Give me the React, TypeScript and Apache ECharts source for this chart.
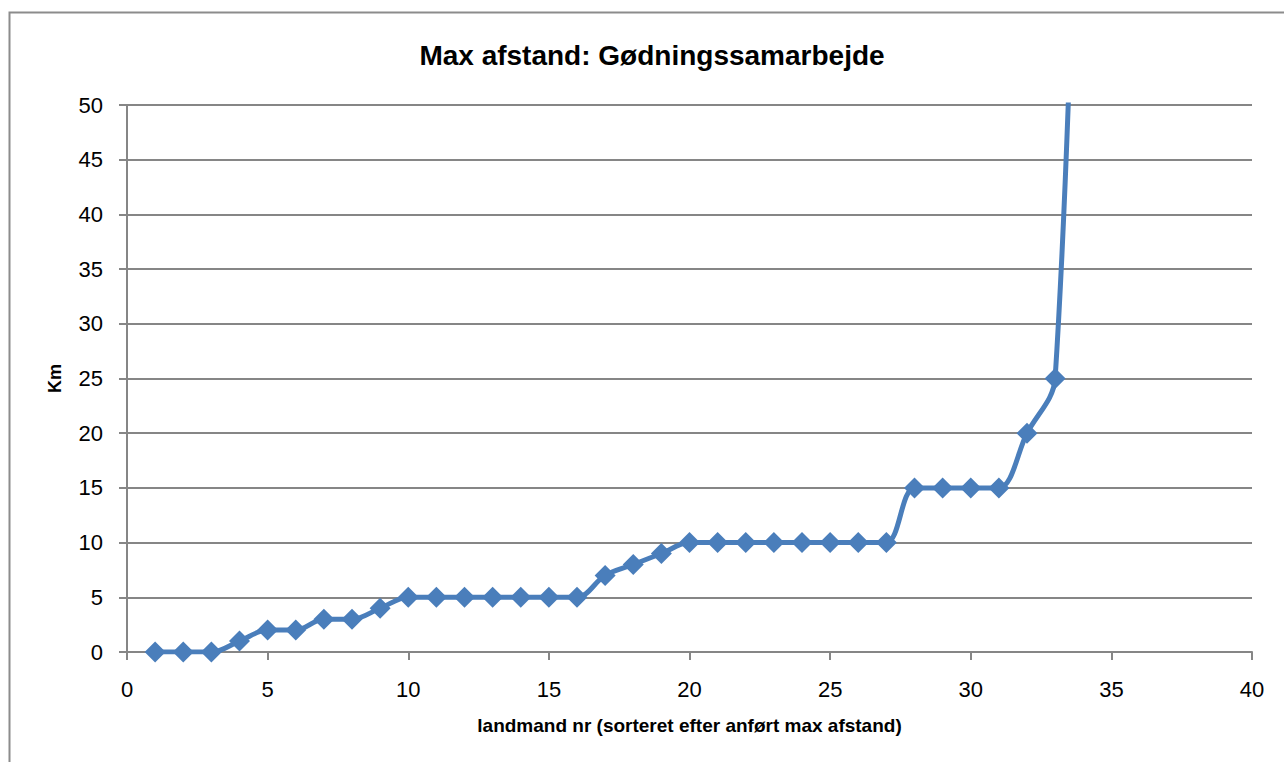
import React, { useEffect, useRef } from "react";
import * as echarts from "echarts";

const landmand = [1,2,3,4,5,6,7,8,9,10,11,12,13,14,15,16,17,18,19,20,21,22,23,24,25,26,27,28,29,30,31,32,33,34];
const afstandKm = [0,0,0,1,2,2,3,3,4,5,5,5,5,5,5,5,7,8,9,10,10,10,10,10,10,10,10,15,15,15,15,20,25,100];
const shownMarkers = 33;

const titleText = "Max afstand: Gødningssamarbejde";
const xName = "landmand nr (sorteret efter anført max afstand)";
const yName = "Km";

export default function App() {
  const ref = useRef<HTMLDivElement>(null);
  useEffect(() => {
    document.body.style.margin = "0";
    const chart = echarts.init(ref.current!, null, { renderer: "svg" });
    const font = "'Liberation Sans', Arial, sans-serif";
    const data = landmand.map((x, i) => ({
      value: [x, afstandKm[i]],
      symbolSize: i < shownMarkers ? 21 : 0,
    }));
    chart.setOption({
      animation: false,
      backgroundColor: "#ffffff",
      textStyle: { fontFamily: font },
      title: {
        text: titleText,
        left: 647,
        top: 36,
        textAlign: "center",
        textStyle: { fontSize: 28, fontWeight: "bold", color: "#000", fontFamily: font },
      },
      graphic: [
        {
          type: "rect",
          shape: { x: 9.5, y: 12.5, width: 1300, height: 800 },
          style: { fill: "none", stroke: "#8c8c8c", lineWidth: 2 },
          silent: true,
        },
      ],
      grid: { left: 127, right: 32, top: 105, bottom: 110, containLabel: false },
      xAxis: {
        type: "value",
        min: 0,
        max: 40,
        interval: 5,
        name: xName,
        nameLocation: "middle",
        nameGap: 64,
        nameTextStyle: { fontSize: 19, fontWeight: "bold", color: "#000", fontFamily: font },
        axisLine: { show: true, lineStyle: { color: "#868686", width: 2 } },
        axisTick: { show: true, length: 8, lineStyle: { color: "#868686", width: 2 } },
        axisLabel: { fontSize: 22, color: "#000", margin: 26, fontFamily: font },
        splitLine: { show: false },
      },
      yAxis: {
        type: "value",
        min: 0,
        max: 50,
        interval: 5,
        name: yName,
        nameLocation: "middle",
        nameGap: 63,
        nameRotate: 90,
        nameTextStyle: { fontSize: 18, fontWeight: "bold", color: "#000", fontFamily: font },
        axisLine: { show: true, lineStyle: { color: "#868686", width: 2 } },
        axisTick: { show: true, length: 8, lineStyle: { color: "#868686", width: 2 } },
        axisLabel: { fontSize: 22, color: "#000", margin: 24, fontFamily: font },
        splitLine: { show: true, lineStyle: { color: "#868686", width: 2 } },
      },
      series: [
        {
          type: "line",
          data,
          smooth: 0.35,
          clip: true,
          symbol: "diamond",
          showSymbol: true,
          lineStyle: { color: "#4a7ebb", width: 5 },
          itemStyle: { color: "#4a7ebb" },
        },
      ],
    });
    return () => chart.dispose();
  }, []);
  return <div ref={ref} style={{ width: 1284, height: 762 }} />;
}
